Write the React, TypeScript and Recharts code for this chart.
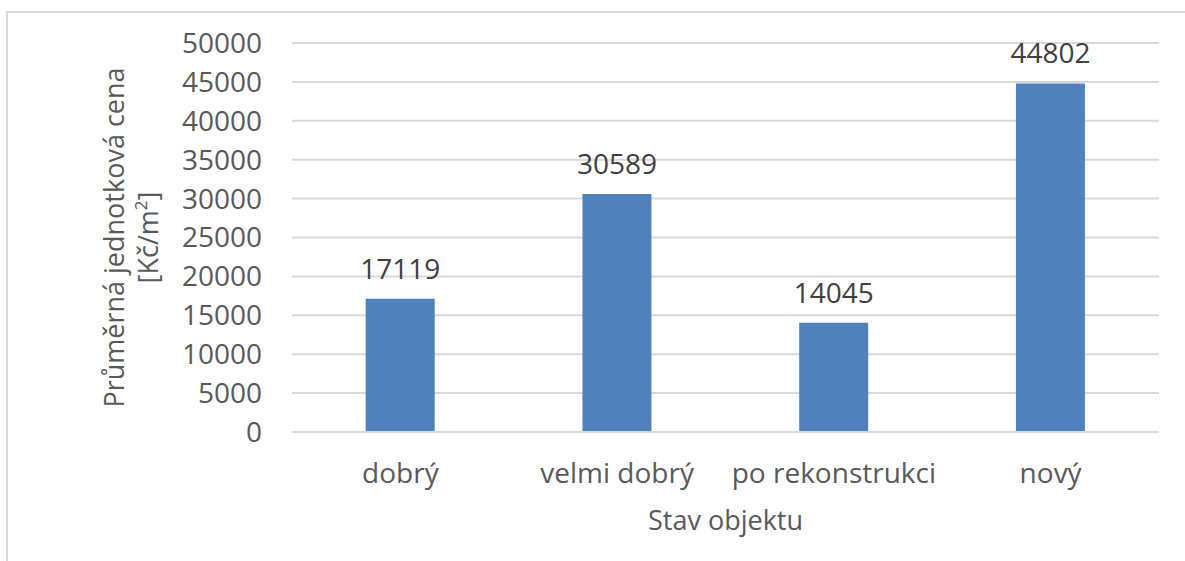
import React from "react";
import { BarChart, Bar, XAxis, YAxis, CartesianGrid, LabelList, Label } from "recharts";

const categories = ["dobrý", "velmi dobrý", "po rekonstrukci", "nový"];
const prices = [17119, 30589, 14045, 44802];
const yTicks = [0, 5000, 10000, 15000, 20000, 25000, 30000, 35000, 40000, 45000, 50000];

const data = categories.map((name, i) => ({ name, value: prices[i] }));

const FONT = "'Open Sans', sans-serif";
const TEXT = "#595959";

function YTitle(props: any) {
  const vb = props.viewBox;
  const cy = vb.y + vb.height / 2;
  const x1 = 124;
  const x2 = 158;
  return (
    <g fontFamily={FONT} fontSize={27} fill={TEXT}>
      <text x={x1} y={cy} textAnchor="middle" transform={`rotate(-90, ${x1}, ${cy})`}>
        Průměrná jednotková cena
      </text>
      <text x={x2} y={cy} textAnchor="middle" transform={`rotate(-90, ${x2}, ${cy})`}>
        [Kč/m
        <tspan baselineShift="super" fontSize={17}>2</tspan>]
      </text>
    </g>
  );
}

function XTitle(props: any) {
  const vb = props.viewBox;
  const cx = vb.x + vb.width / 2;
  return (
    <text x={cx} y={530} textAnchor="middle" fontFamily={FONT} fontSize={27} fill={TEXT}>
      Stav objektu
    </text>
  );
}

export default function App() {
  return (
    <div style={{ position: "fixed", left: 0, top: 0, width: 1185, height: 561, background: "#fff" }}>
      <div
        style={{
          position: "absolute",
          left: 6,
          top: 11,
          width: 1300,
          height: 700,
          borderTop: "2px solid #d9d9d9",
          borderLeft: "2px solid #d9d9d9",
        }}
      />
      <div style={{ position: "absolute", left: 0, top: 0 }}>
        <BarChart
          width={1185}
          height={561}
          data={data}
          margin={{ top: 43, right: 26, left: 0, bottom: 0 }}
          barCategoryGap="34%"
        >
          <CartesianGrid vertical={false} stroke="#d9d9d9" strokeWidth={2} />
          <XAxis
            dataKey="name"
            height={129}
            interval={0}
            axisLine={{ stroke: "#d9d9d9", strokeWidth: 2 }}
            tickLine={false}
            tickSize={0}
            tickMargin={31}
            tick={{ fill: TEXT, fontSize: 28, fontFamily: FONT }}
          >
            <Label content={<XTitle />} />
          </XAxis>
          <YAxis
            width={292}
            domain={[0, 50000]}
            ticks={yTicks}
            interval={0}
            axisLine={false}
            tickLine={false}
            tickSize={0}
            tickMargin={30}
            tick={{ fill: TEXT, fontSize: 28, fontFamily: FONT }}
          >
            <Label content={<YTitle />} />
          </YAxis>
          <Bar dataKey="value" fill="#4f81bd" isAnimationActive={false}>
            <LabelList
              dataKey="value"
              position="top"
              offset={20}
              fill="#404040"
              fontSize={28}
              fontFamily={FONT}
            />
          </Bar>
        </BarChart>
      </div>
    </div>
  );
}
